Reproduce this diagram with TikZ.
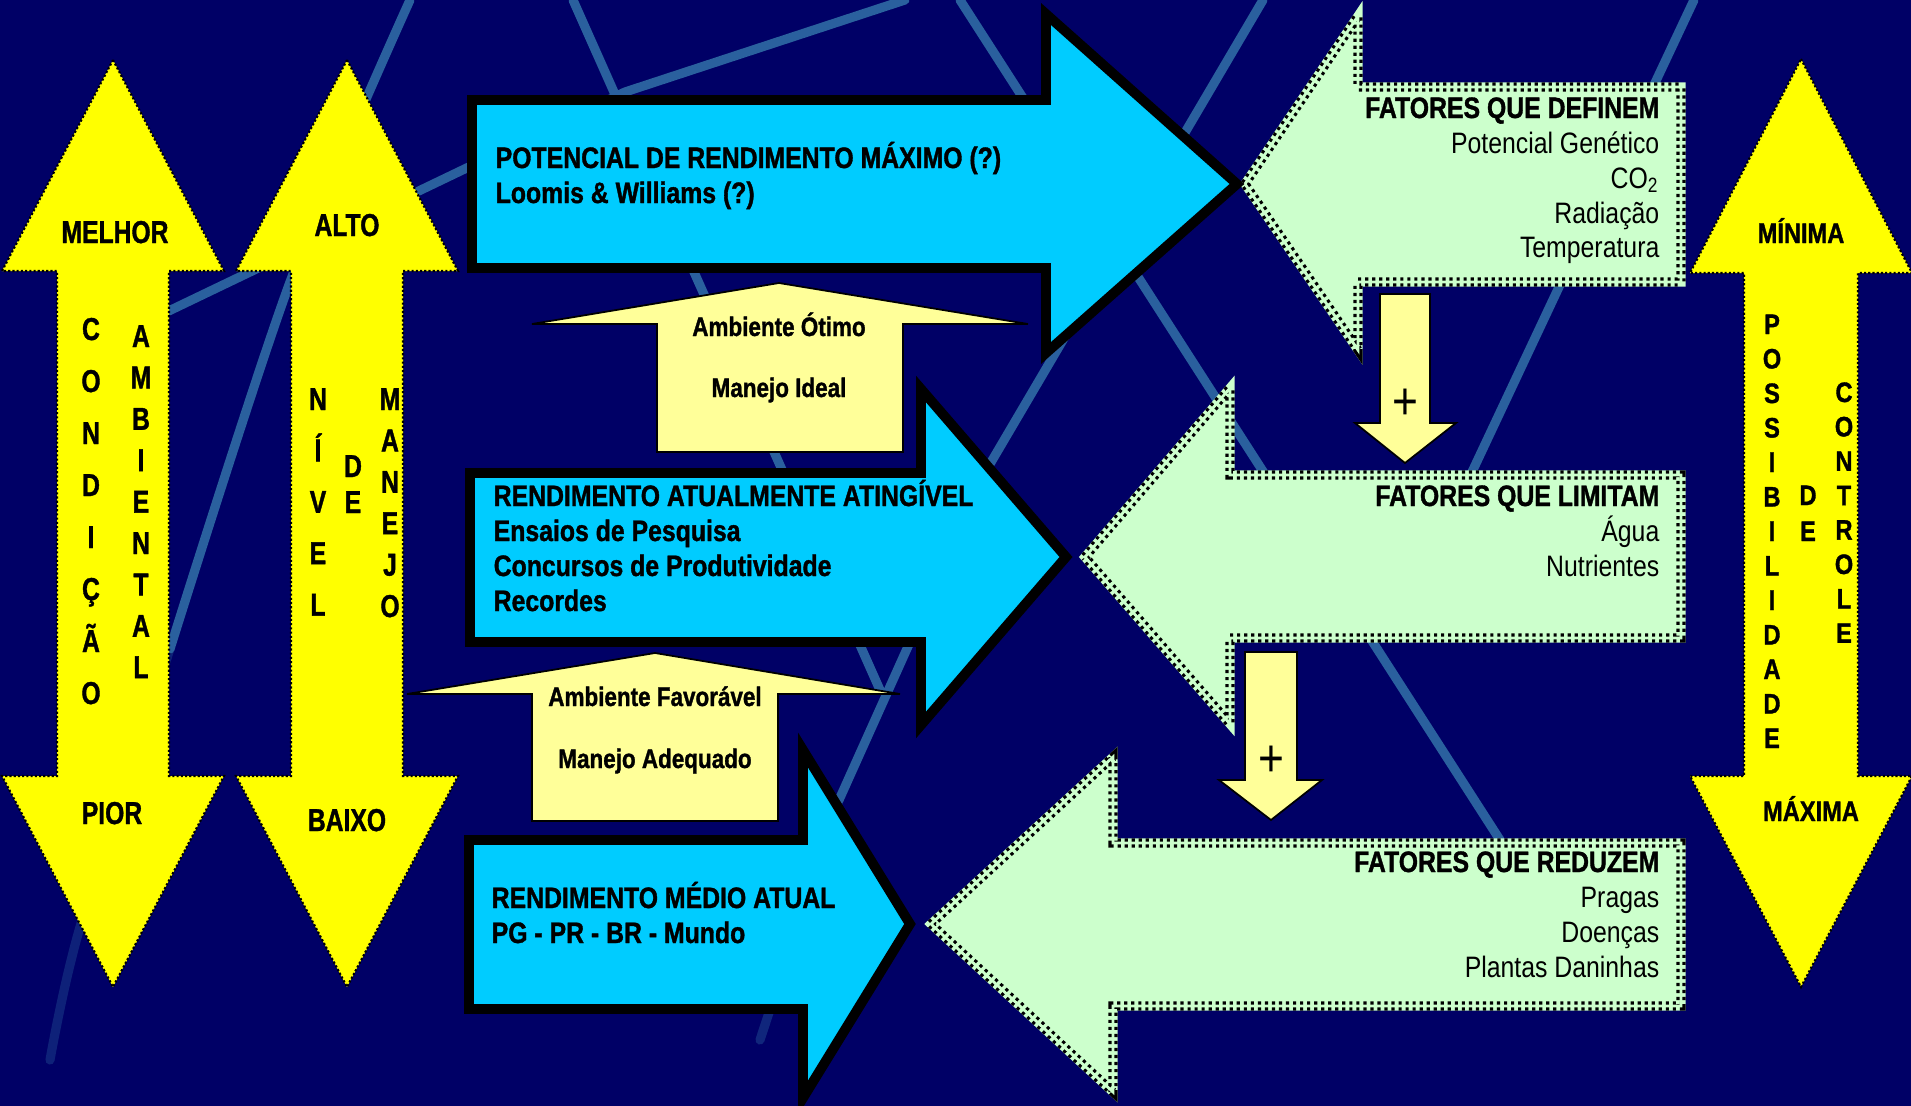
\documentclass[tikz,border=0pt]{standalone}
\usepackage{fontspec}
\setmainfont{Liberation Sans}
\newfontfamily\narrowfont{Liberation Sans}[FakeStretch=0.84,BoldFeatures={FakeBold=1.2}]
\newfontfamily\tallfont{Liberation Sans}[FakeStretch=0.78,BoldFeatures={FakeBold=1.2}]
\definecolor{Navy}{RGB}{0,0,102}
\definecolor{Streak}{RGB}{42,96,158}
\definecolor{ArrowBlue}{RGB}{0,204,255}
\definecolor{PaleGreen}{RGB}{204,255,204}
\definecolor{PaleYellow}{RGB}{255,255,153}
\definecolor{Lemon}{RGB}{255,255,0}

\begin{document}
\begin{tikzpicture}[x=0.01cm,y=-0.01cm,
    streak/.style={draw=Streak,line width=2.6pt,line cap=round,line join=round},
    bluearrow/.style={fill=ArrowBlue,draw=black,line width=2.8pt,line join=miter},
    greenarrow/.style={fill=PaleGreen,draw=PaleGreen,line width=2.6pt,line join=miter,
      postaction={draw=black,line width=2.6pt,dash pattern=on 0.9pt off 1.1pt},
      postaction={draw=PaleGreen,line width=0.8pt}},
    scalearrow/.style={fill=Lemon,draw=black,line width=0.6pt,dash pattern=on 0.6pt off 0.6pt},
    palearrow/.style={fill=PaleYellow,draw=black,line width=0.5pt,line join=miter},
    boxtext/.style={anchor=base west,inner sep=0pt,font=\narrowfont\bfseries\fontsize{8.4}{10}\selectfont},
    factorhead/.style={anchor=base east,inner sep=0pt,font=\narrowfont\bfseries\fontsize{8.4}{10}\selectfont},
    factor/.style={anchor=base east,inner sep=0pt,font=\narrowfont\fontsize{8.4}{10}\selectfont},
    pushtext/.style={anchor=base,inner sep=0pt,font=\narrowfont\bfseries\fontsize{7.6}{9}\selectfont},
    bigletter/.style={anchor=base,inner sep=0pt,font=\tallfont\bfseries\fontsize{9}{9}\selectfont},
    sideletter/.style={anchor=base,inner sep=0pt,font=\narrowfont\bfseries\fontsize{8}{8}\selectfont},
    plussign/.style={inner sep=0pt,font=\narrowfont\fontsize{15}{15}\selectfont}]
  \useasboundingbox (0,0) rectangle (1911,1106);
  \clip (0,0) rectangle (1911,1106);
  % background and streaks
  \fill[Navy] (0,0) rectangle (1911,1106);
  \draw[streak] (150,320) -- (625,92) -- (905,0);
  \draw[streak] (573,0) -- (880,690);
  \draw[streak] (960,0) -- (1500,840);
  \draw[streak] (1694,0) -- (1440,540);
  \draw[streak] (1263,0) -- (990,464) -- (839,800);
  \draw[streak,opacity=0.4] (839,800) -- (760,1040);
  \draw[streak] plot[smooth] coordinates {(410,0) (290,282) (170,649)};
  \draw[streak,opacity=0.35] plot[smooth] coordinates {(170,649) (80,927) (50,1060)};

  % double scale arrows
  \draw[scalearrow] (113,60) -- (224,271) -- (169,271) -- (169,776) -- (224,776) -- (113,987)
    -- (2,776) -- (57,776) -- (57,271) -- (2,271) -- cycle;
  \draw[scalearrow] (347,60) -- (458,271) -- (403,271) -- (403,776) -- (458,776) -- (347,987)
    -- (236,776) -- (291,776) -- (291,271) -- (236,271) -- cycle;
  \draw[scalearrow] (1801,59) -- (1912,273) -- (1858,273) -- (1858,776) -- (1912,776) -- (1801,987)
    -- (1690,776) -- (1744,776) -- (1744,273) -- (1690,273) -- cycle;
  \node[bigletter] (melhor) at (115,243) {MELHOR};
  \node[bigletter] (pior) at (112,824) {PIOR};
  \node[bigletter] (alto) at (347,236) {ALTO};
  \node[bigletter] (baixo) at (347,831) {BAIXO};
  \foreach \l [count=\i from 0] in {C,O,N,D,I,Ç,Ã,O}
    \node[bigletter] (cond\i) at (91,340+52*\i) {\l};
  \foreach \l [count=\i from 0] in {A,M,B,I,E,N,T,A,L}
    \node[bigletter] (amb\i) at (141,347+41.4*\i) {\l};
  \foreach \l [count=\i from 0] in {N,Í,V,E,L}
    \node[bigletter] (nivel\i) at (318,410+51.4*\i) {\l};
  \foreach \l [count=\i from 0] in {D,E}
    \node[bigletter] (de\i) at (353,477+36*\i) {\l};
  \foreach \l [count=\i from 0] in {M,A,N,E,J,O}
    \node[bigletter] (manejo\i) at (390,410+41.4*\i) {\l};
  \node[sideletter] (minima) at (1801,243) {MÍNIMA};
  \node[sideletter] (maxima) at (1811,821) {MÁXIMA};
  \foreach \l [count=\i from 0] in {P,O,S,S,I,B,I,L,I,D,A,D,E}
    \node[sideletter] (poss\i) at (1772,334+34.5*\i) {\l};
  \foreach \l [count=\i from 0] in {D,E}
    \node[sideletter] (rde\i) at (1808,505+36*\i) {\l};
  \foreach \l [count=\i from 0] in {C,O,N,T,R,O,L,E}
    \node[sideletter] (contr\i) at (1844,402+34.4*\i) {\l};

  % factor arrows
  \path[greenarrow] (1245,184) -- (1358,16) -- (1358,87) -- (1681,87) -- (1681,282)
    -- (1358,282) -- (1358,350) -- cycle;
  \path[greenarrow] (1085,557) -- (1230,388) -- (1230,475) -- (1681,475) -- (1681,638)
    -- (1230,638) -- (1230,724) -- cycle;
  \path[greenarrow] (931,924) -- (1113,757) -- (1113,843) -- (1681,843) -- (1681,1006)
    -- (1113,1006) -- (1113,1092) -- cycle;
  \node[factorhead] (define) at (1660,118) {FATORES QUE DEFINEM};
  \node[factor] (genetico) at (1660,153) {Potencial Genético};
  \node[factor] (co2) at (1660,188) {CO\textsubscript{2}};
  \node[factor] (radiacao) at (1660,223) {Radiação};
  \node[factor] (temp) at (1660,257) {Temperatura};
  \node[factorhead] (limita) at (1660,506) {FATORES QUE LIMITAM};
  \node[factor] (agua) at (1660,541) {Água};
  \node[factor] (nutri) at (1660,576) {Nutrientes};
  \node[factorhead] (reduz) at (1660,872) {FATORES QUE REDUZEM};
  \node[factor] (pragas) at (1660,907) {Pragas};
  \node[factor] (doencas) at (1660,942) {Doenças};
  \node[factor] (daninhas) at (1660,977) {Plantas Daninhas};
  \draw[palearrow] (1380,294) -- (1430,294) -- (1430,423) -- (1456,423) -- (1405,463)
    -- (1355,423) -- (1380,423) -- cycle;
  \draw[palearrow] (1245,652) -- (1297,652) -- (1297,780) -- (1322,780) -- (1271,820)
    -- (1219,780) -- (1245,780) -- cycle;
  \node[plussign] (plus1) at (1405,404) {+};
  \node[plussign] (plus2) at (1271,761) {+};

  % yield arrows
  \draw[bluearrow] (472,100) -- (1046,100) -- (1046,14) -- (1237,184) -- (1046,353)
    -- (1046,268) -- (472,268) -- cycle;
  \draw[bluearrow] (470,473) -- (921,473) -- (921,389) -- (1066,557) -- (921,725)
    -- (921,642) -- (470,642) -- cycle;
  \draw[bluearrow] (469,840) -- (803,840) -- (803,750) -- (910,924) -- (803,1098)
    -- (803,1009) -- (469,1009) -- cycle;
  \node[boxtext] (maximo) at (495,168) {POTENCIAL DE RENDIMENTO MÁXIMO (?)};
  \node[boxtext] (loomis) at (495,203) {Loomis \& Williams (?)};
  \node[boxtext] (atingivel) at (493,506) {RENDIMENTO ATUALMENTE ATINGÍVEL};
  \node[boxtext] (ensaios) at (493,541) {Ensaios de Pesquisa};
  \node[boxtext] (concursos) at (493,576) {Concursos de Produtividade};
  \node[boxtext] (recordes) at (493,611) {Recordes};
  \node[boxtext] (medio) at (491,908) {RENDIMENTO MÉDIO ATUAL};
  \node[boxtext] (regioes) at (491,943) {PG - PR - BR - Mundo};

  % management arrows
  \draw[palearrow] (779,283) -- (1028,324) -- (903,324) -- (903,452) -- (657,452)
    -- (657,324) -- (532,324) -- cycle;
  \draw[palearrow] (655,653) -- (900,694) -- (778,694) -- (778,821) -- (532,821)
    -- (532,694) -- (407,694) -- cycle;
  \node[pushtext] (otimo) at (779,336) {Ambiente Ótimo};
  \node[pushtext] (ideal) at (779,397) {Manejo Ideal};
  \node[pushtext] (favoravel) at (655,706) {Ambiente Favorável};
  \node[pushtext] (adequado) at (655,768) {Manejo Adequado};
\end{tikzpicture}
\end{document}
